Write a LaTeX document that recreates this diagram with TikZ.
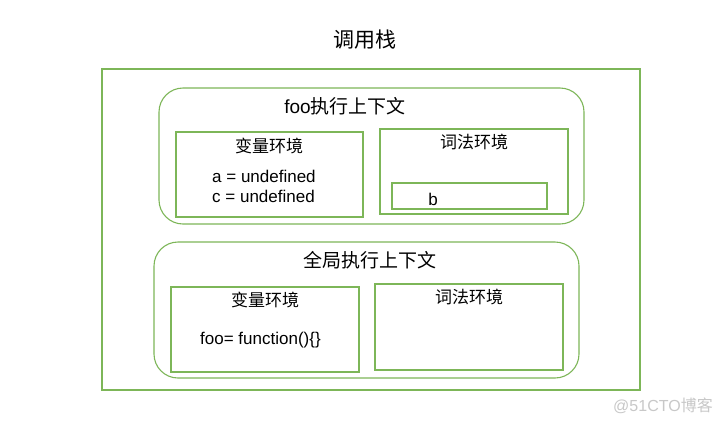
\documentclass[tikz,border=0pt]{standalone}
\usepackage{fontspec}
\setmainfont{Liberation Sans}
\newfontfamily\cjk{Noto Sans CJK SC}
\definecolor{boxgreen}{RGB}{125,182,88}
\definecolor{wmgray}{RGB}{200,200,200}
\begin{document}
\begin{tikzpicture}[x=1pt,y=-1pt,
  box/.style={draw=boxgreen,line width=1.1pt},
  ctx/.style={draw=boxgreen,line width=1.1pt,rounded corners=24pt},
  lbl/.style={inner sep=0pt,anchor=center},
  big/.style={font=\fontsize{19}{23}\selectfont},
  mid/.style={font=\fontsize{17}{20}\selectfont}]
\useasboundingbox (0,0) rectangle (720,424);
\fill[white] (0,0) rectangle (720,424);
\node[lbl,font=\fontsize{21}{25}\selectfont\cjk] (title) at (365,40) {调用栈};
\draw[box] (102,69) rectangle (640,390);
% foo context
\draw[ctx] (159,88) rectangle (584,224);
\node[lbl,big] (fooctx) at (345,106) {foo{\cjk 执行上下文}};
\draw[box] (176,132) rectangle (363,217);
\node[lbl,font=\fontsize{17}{20}\selectfont\cjk] (fvar) at (269,146) {变量环境};
\node[lbl,mid,anchor=west] (va) at (212,176) {a = undefined};
\node[lbl,mid,anchor=west] (vc) at (212,196) {c = undefined};
\draw[box] (380,129) rectangle (568,214);
\node[lbl,font=\fontsize{17}{20}\selectfont\cjk] (flex) at (474,142) {词法环境};
\draw[box] (392,183) rectangle (547,209);
\node[lbl,mid] (vb) at (433,199) {b};
% global context
\draw[ctx] (154,242) rectangle (579,378);
\node[lbl,font=\fontsize{19}{23}\selectfont\cjk] (gctx) at (370,260) {全局执行上下文};
\draw[box] (171,287) rectangle (359,372);
\node[lbl,font=\fontsize{17}{20}\selectfont\cjk] (gvar) at (265,300) {变量环境};
\node[lbl,mid,anchor=west] (vfoo) at (200,340) {foo= function()\{\}};
\draw[box] (375,284) rectangle (563,370);
\node[lbl,font=\fontsize{17}{20}\selectfont\cjk] (glex) at (469,297) {词法环境};
% watermark
\node[lbl,text=wmgray,font=\fontsize{16}{18}\selectfont] (wm) at (663,406) {@51CTO{\cjk 博客}};
\end{tikzpicture}
\end{document}
